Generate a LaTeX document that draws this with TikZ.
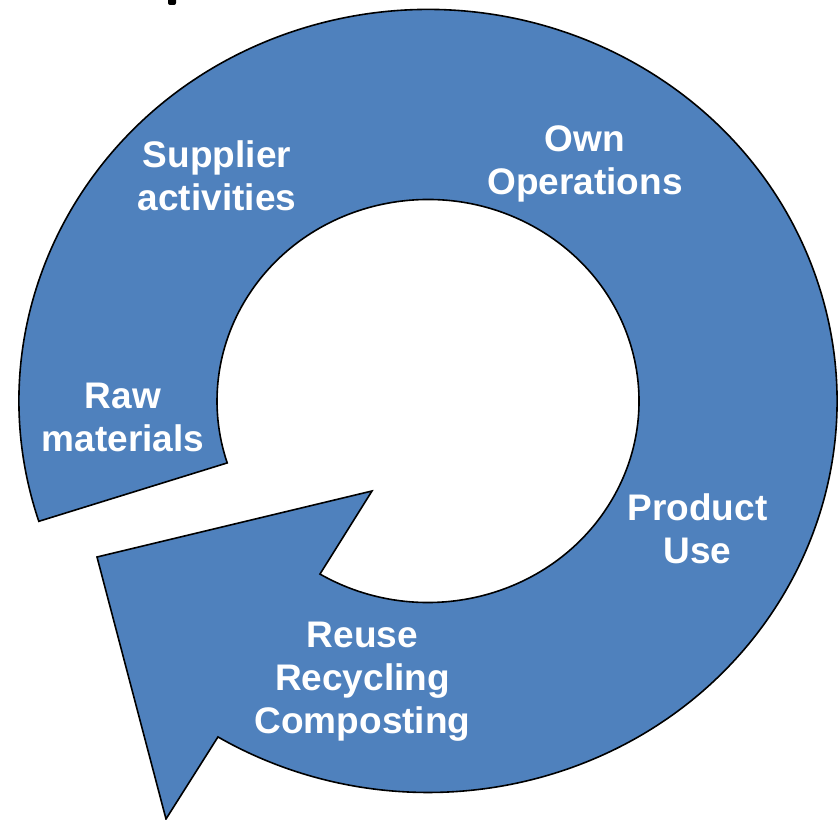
\documentclass[tikz,border=0pt]{standalone}
\usepackage{fontspec}
\setmainfont{Liberation Sans}
\definecolor{ringblue}{HTML}{4F81BD}
\begin{document}
\begin{tikzpicture}[x=1pt,y=1pt,
  ring/.style={fill=ringblue,draw=black,line width=1.6pt,line join=miter},
  lbl/.style={text=white,font=\bfseries\fontsize{37}{43}\selectfont,align=center,inner sep=0pt,anchor=center}]
\useasboundingbox (0,0) rectangle (839,820);
\coordinate (C) at (428,419);
% outer / inner cut ends and arrow points
\path (C) ++(197.9:409 and 391.5) coordinate (A);
\path (C) ++(239.1:409 and 391.5) coordinate (E);
\path (C) ++(239.2:211 and 201.5) coordinate (F);
\path (C) ++(197.9:211 and 201.5) coordinate (D);
\coordinate (T) at (166,1);
\coordinate (P) at (97,263);
\coordinate (B) at (372,329);
\draw[ring] (A) arc[start angle=197.9,end angle=-120.9,x radius=409,y radius=391.5]
  -- (T) -- (P) -- (B) -- (F)
  arc[start angle=239.2,end angle=557.9,x radius=211,y radius=201.5]
  -- cycle;
% fragment of a cut-off title letter
\fill[black,rounded corners=2pt] (168,815) rectangle (176,824);
\node[lbl] (sup) at (217,644) {Supplier\\activities};
\node[lbl] (own) at (585,656) {Own\\Operations};
\node[lbl] (raw) at (123,403) {Raw\\materials};
\node[lbl] (prod) at (697.5,291.5) {Product\\Use};
\node[lbl] (reuse) at (362.5,138.5) {Reuse\\Recycling\\Composting};
\end{tikzpicture}
\end{document}
